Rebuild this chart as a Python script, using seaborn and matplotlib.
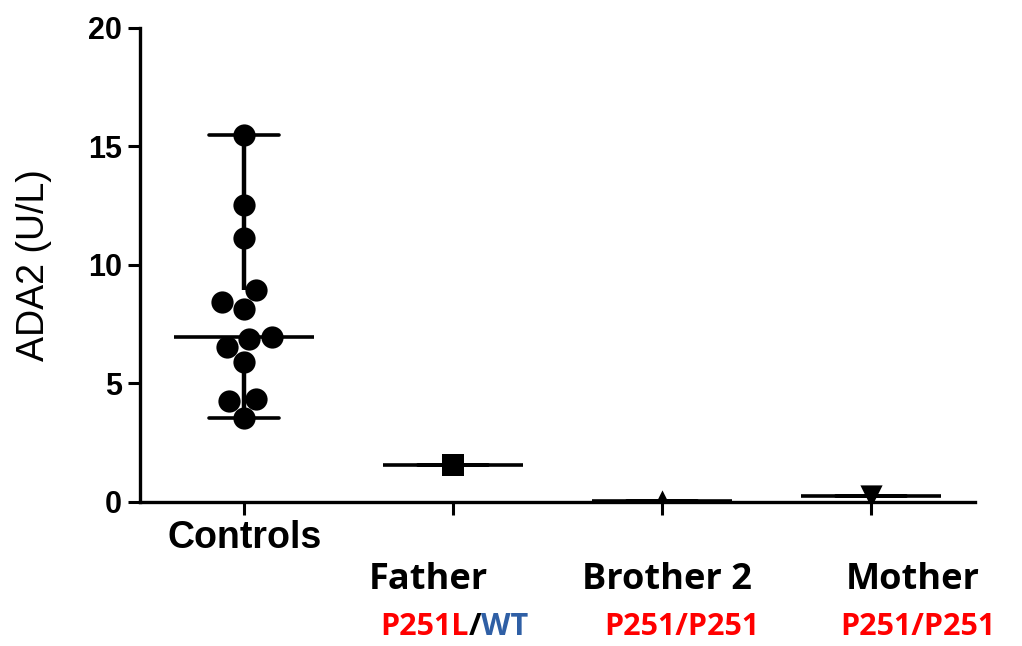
import numpy as np
import pandas as pd
import matplotlib
matplotlib.use("Agg")
import matplotlib.pyplot as plt
import seaborn as sns
from matplotlib.offsetbox import TextArea, HPacker, AnnotationBbox

# values (ADA2 activity, U/L)
groups = ["Controls", "Father", "Brother 2", "Mother"]
controls = [15.48, 12.53, 11.14, 8.95, 8.44, 8.14, 6.96, 6.88, 6.54, 5.91, 4.35, 4.26, 3.54]
father = [1.56]
brother2 = [0.05]
mother = [0.25]
markers = ["o", "s", "^", "v"]
genotypes = [None,
             [("P251L", "#ff0000"), ("/", "black"), ("WT", "#2f5fa5")],
             [("P251/P251", "#ff0000")],
             [("P251/P251", "#ff0000")]]

df = pd.DataFrame({
    "group": ["Controls"] * len(controls) + ["Father"] * len(father)
             + ["Brother 2"] * len(brother2) + ["Mother"] * len(mother),
    "value": controls + father + brother2 + mother,
})

sns.set_style("ticks")
plt.rcParams["font.family"] = ["Liberation Sans", "DejaVu Sans"]
plt.rcParams["text.color"] = "black"
plt.rcParams["xtick.color"] = "black"
plt.rcParams["ytick.color"] = "black"
plt.rcParams["axes.labelcolor"] = "black"
plt.rcParams["axes.edgecolor"] = "black"

fig = plt.figure(figsize=(10.22, 6.46), dpi=100)
ax = fig.add_axes([0.137, 0.223, 0.817, 0.734])

# median line + full range whiskers
sns.boxplot(data=df, x="group", y="value", order=groups, ax=ax,
            whis=(0, 100), width=0.67, showbox=False, showfliers=False,
            medianprops=dict(color="black", linewidth=2.6),
            whiskerprops=dict(color="black", linewidth=3.2),
            capprops=dict(color="black", linewidth=2.6))

for g, m in zip(groups, markers):
    sns.swarmplot(data=df[df["group"] == g], x="group", y="value", order=groups,
                  ax=ax, marker=m, size=16, color="black", linewidth=0, zorder=3)

ax.set_ylim(0, 20)
ax.set_xlim(-0.5, 3.5)
ax.set_yticks([0, 5, 10, 15, 20])
ax.set_ylabel("ADA2 (U/L)", fontsize=27, labelpad=26)
ax.set_xlabel("")
ax.set_xticks(range(len(groups)))
ax.set_xticklabels(["Controls", "", "", ""])
for lab in ax.get_xticklabels():
    lab.set_fontweight("bold")
    lab.set_fontsize(27)
for lab in ax.get_yticklabels():
    lab.set_fontweight("bold")
    lab.set_fontsize(22)
ax.tick_params(axis="both", length=9, width=2.2, pad=4)
sns.despine(ax=ax)
for sp in ["left", "bottom"]:
    ax.spines[sp].set_linewidth(2.4)

# family member names and genotypes under the axis
name_dx = [0, -18, 4, 30]
geno_dx = [0, 1, 14, 34]
for i, g in enumerate(groups[1:], start=1):
    ax.annotate(g, xy=(i, 0), xycoords=("data", "axes fraction"),
                xytext=(name_dx[i], -56), textcoords="offset points",
                ha="center", va="center", fontsize=26, fontweight="bold",
                family=["Open Sans", "DejaVu Sans"])
    parts = [TextArea(t, textprops=dict(color=c, fontsize=22, fontweight="bold",
                                        family=["Open Sans", "DejaVu Sans"]))
             for t, c in genotypes[i]]
    box = HPacker(children=parts, align="baseline", pad=0, sep=0)
    ab = AnnotationBbox(box, (i, 0), xycoords=("data", "axes fraction"),
                        xybox=(geno_dx[i], -90), boxcoords="offset points",
                        frameon=False, box_alignment=(0.5, 0.5))
    ax.add_artist(ab)

fig.savefig("out.png", dpi=100)
